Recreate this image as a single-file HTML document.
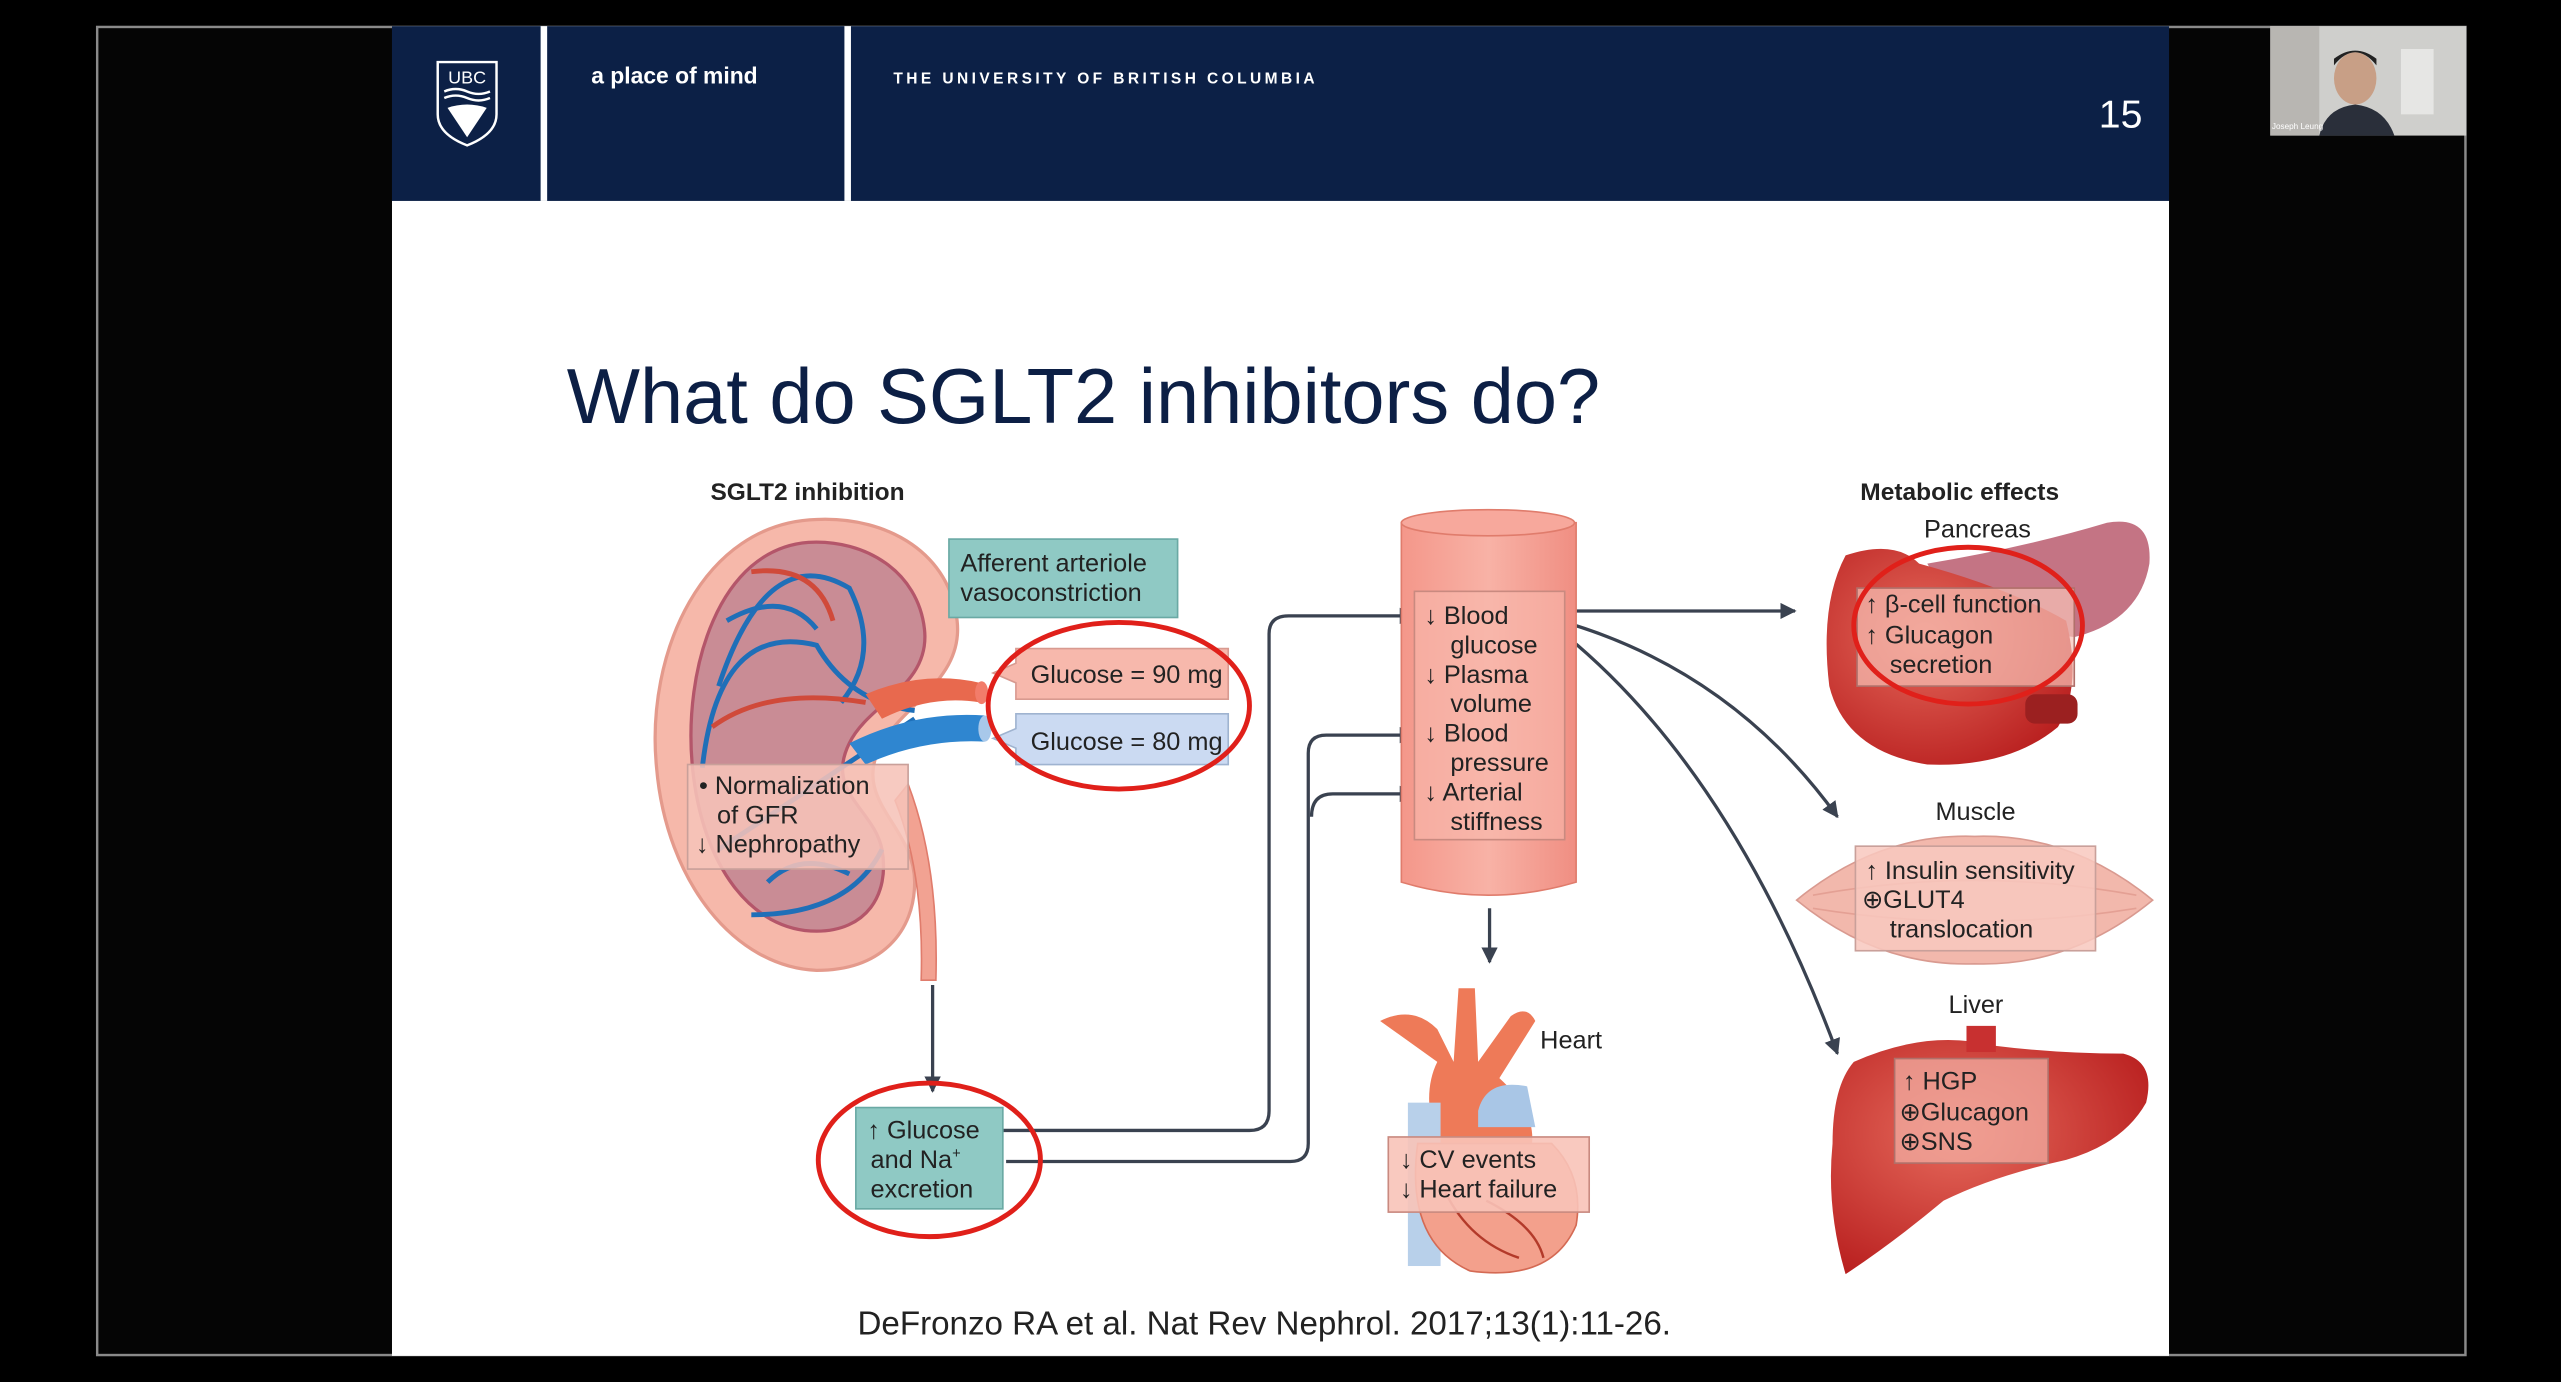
<!DOCTYPE html>
<html><head><meta charset="utf-8"><style>
html,body{margin:0;padding:0;background:#000;}
svg{display:block;}
text{font-family:"Liberation Sans",sans-serif;}
</style></head><body>
<svg width="2561" height="1382" viewBox="0 0 1568 846" preserveAspectRatio="none" xmlns="http://www.w3.org/2000/svg">
<defs>
<marker id="ah" viewBox="0 0 10 10" refX="9" refY="5" markerWidth="5" markerHeight="5" orient="auto"><path d="M0,0 L10,5 L0,10 z" fill="#3a4250"/></marker>
<linearGradient id="cyl" x1="0" x2="1"><stop offset="0" stop-color="#f4978a"/><stop offset="0.5" stop-color="#f8b2a6"/><stop offset="1" stop-color="#f08e82"/></linearGradient>
<radialGradient id="red" cx="0.4" cy="0.4" r="0.7"><stop offset="0" stop-color="#e66a5c"/><stop offset="1" stop-color="#b81e1e"/></radialGradient>
</defs>
<rect width="1568" height="846" fill="#000"/>
<rect x="59.5" y="16.5" width="1450" height="813" fill="#050505" stroke="#8a8a8a" stroke-width="1.5"/>
<rect x="240" y="16" width="1088" height="814" fill="#fff"/>
<rect x="240" y="16" width="1088" height="107" fill="#0c2046"/>
<rect x="331" y="16" width="4" height="107" fill="#fff"/>
<rect x="517" y="16" width="4" height="107" fill="#fff"/>
<path d="M268,38 L304,38 L304,70 Q304,82 286,89 Q268,82 268,70 Z" fill="none" stroke="#fff" stroke-width="1.5"/>
<text x="286" y="51" fill="#fff" font-size="11" text-anchor="middle" font-family="Liberation Serif,serif">UBC</text>
<path d="M272,56 Q279,53 286,56 Q293,59 300,56 M272,60 Q279,57 286,60 Q293,63 300,60" stroke="#fff" fill="none" stroke-width="1.5"/>
<path d="M274,66 L286,84 L298,66 Q286,62 274,66 Z" fill="#fff"/>
<text x="362" y="51" fill="#fff" font-size="14" font-weight="bold">a place of mind</text>
<text x="547" y="51" fill="#fff" font-size="9.5" font-weight="bold" letter-spacing="2.1">THE UNIVERSITY OF BRITISH COLUMBIA</text>
<text x="1285" y="78" fill="#fff" font-size="24">15</text>
<rect x="1390" y="16" width="120" height="67" fill="#cfcfcc"/>
<rect x="1470" y="30" width="20" height="40" fill="#e6e6e4"/>
<rect x="1390" y="16" width="30" height="67" fill="#b8b6b2"/>
<ellipse cx="1442" cy="48" rx="13" ry="16" fill="#c89f86"/>
<path d="M1429,40 Q1442,24 1455,40 L1455,36 Q1442,26 1429,36Z" fill="#222"/>
<path d="M1420,83 Q1424,66 1442,64 Q1460,66 1466,83 Z" fill="#2a2f3a"/>
<text x="1391" y="79" fill="#fff" font-size="5">Joseph Leung</text>
<text x="347" y="259" fill="#0c1f45" font-size="47.5">What do SGLT2 inhibitors do?</text>
<text x="435" y="306" fill="#222" font-size="15" font-weight="bold">SGLT2 inhibition</text>
<path d="M500,318 C430,320 395,400 402,470 C408,540 450,592 500,594 C540,594 560,570 560,540 C560,505 520,490 540,455 C555,430 590,415 586,380 C582,340 545,316 500,318 Z" fill="#f6b8aa" stroke="#e49a8c" stroke-width="2"/>
<path d="M495,332 C440,336 418,410 424,470 C430,530 460,570 500,570 C530,570 545,548 540,520 C535,495 505,485 520,455 C532,430 570,420 566,385 C562,350 530,330 495,332 Z" fill="#c98c95" stroke="#b4566a" stroke-width="2"/>
<g fill="none" stroke-width="3">
<path d="M440,420 Q470,330 520,360 Q540,400 515,430" stroke="#1f6fb8"/>
<path d="M430,470 Q440,380 500,395 Q520,430 560,435" stroke="#1f6fb8"/>
<path d="M440,520 Q500,480 560,440" stroke="#1f6fb8"/>
<path d="M460,560 Q520,560 540,520" stroke="#1f6fb8"/>
<path d="M445,380 Q480,360 500,385" stroke="#1f6fb8"/>
<path d="M470,540 Q490,520 520,535" stroke="#1f6fb8"/>
<path d="M460,350 Q500,345 510,380" stroke="#d04a3a"/>
<path d="M436,445 Q470,420 530,430" stroke="#d04a3a"/>
</g>
<path d="M530,425 Q565,410 600,418 L600,430 Q570,425 540,440 Z" fill="#e8694e"/>
<path d="M520,455 Q560,435 603,438 L603,454 Q565,452 530,468 Z" fill="#2f86d0"/>
<ellipse cx="601" cy="424" rx="4" ry="7" fill="#f27c6a"/>
<ellipse cx="603" cy="446" rx="4" ry="8" fill="#a8c8ea"/>
<path d="M556,480 Q575,530 573,600 L564,600 Q566,535 548,490 Z" fill="#f2a292" stroke="#e07c6c"/>
<rect x="421" y="468" width="135" height="64" fill="#f6c3b8" fill-opacity="0.88" stroke="#c9a09a"/>
<text font-size="15.5" fill="#222"><tspan x="428" y="486">• Normalization</tspan><tspan x="439" y="504">of GFR</tspan><tspan x="426" y="522">↓ Nephropathy</tspan></text>
<rect x="581" y="330" width="140" height="48" fill="#8fc9c4" stroke="#6aa9a4"/>
<text font-size="15.5" fill="#222"><tspan x="588" y="350">Afferent arteriole</tspan><tspan x="588" y="368">vasoconstriction</tspan></text>
<path d="M622,397 L752,397 L752,428 L622,428 L622,418 L608,412 L622,406Z" fill="#f7b8ac" stroke="#d89a90"/>
<text x="631" y="418" font-size="15.5" fill="#222">Glucose = 90 mg</text>
<path d="M622,437 L752,437 L752,468 L622,468 L622,458 L608,452 L622,446Z" fill="#cbdaf2" stroke="#9fb3d0"/>
<text x="631" y="459" font-size="15.5" fill="#222">Glucose = 80 mg</text>
<ellipse cx="685" cy="432" rx="80" ry="51" fill="none" stroke="#e0201a" stroke-width="3"/>
<g fill="none" stroke="#3a4250" stroke-width="2">
<path d="M571,603 L571,668" marker-end="url(#ah)"/>
<path d="M614,692 L765,692 Q777,692 777,680 L777,388 Q777,377 789,377 L866,377" marker-end="url(#ah)"/>
<path d="M616,711 L790,711 Q801,711 801,700 L801,461 Q801,450 812,450 L866,450" marker-end="url(#ah)"/>
<path d="M803,500 Q803,486 816,486 L866,486" marker-end="url(#ah)"/>
<path d="M912,556 L912,589" marker-end="url(#ah)"/>
<path d="M955,374 L1099,374" marker-end="url(#ah)"/>
<path d="M955,380 Q1060,410 1125,500" marker-end="url(#ah)"/>
<path d="M955,386 Q1060,470 1125,645" marker-end="url(#ah)"/>
</g>
<rect x="524" y="678" width="90" height="62" fill="#8fc9c4" stroke="#6aa9a4"/>
<text font-size="15.5" fill="#222"><tspan x="531" y="697">↑ Glucose</tspan><tspan x="533" y="715">and Na<tspan font-size="9" dy="-6">+</tspan></tspan><tspan x="533" y="733">excretion</tspan></text>
<ellipse cx="569" cy="710" rx="68" ry="47" fill="none" stroke="#e0201a" stroke-width="3"/>
<path d="M858,320 L858,540 Q911,556 965,540 L965,320 Z" fill="url(#cyl)" stroke="#e07c6c"/>
<ellipse cx="911" cy="320" rx="53" ry="8" fill="#f7a89c" stroke="#e07c6c"/>
<rect x="866" y="362" width="92" height="152" fill="#f8b9ae" fill-opacity="0.6" stroke="#c98a80"/>
<text font-size="15.5" fill="#222"><tspan x="872" y="382">↓ Blood</tspan><tspan x="888" y="400">glucose</tspan><tspan x="872" y="418">↓ Plasma</tspan><tspan x="888" y="436">volume</tspan><tspan x="872" y="454">↓ Blood</tspan><tspan x="888" y="472">pressure</tspan><tspan x="872" y="490">↓ Arterial</tspan><tspan x="888" y="508">stiffness</tspan></text>
<path d="M845,625 Q865,615 880,630 L890,650 L893,605 L903,605 L905,650 L925,622 Q935,615 940,625 L918,660 Q940,680 938,700 L880,700 Q870,670 880,650 Z" fill="#ee7a58"/>
<rect x="862" y="675" width="20" height="100" fill="#b8d0ea"/>
<path d="M905,680 Q910,660 935,665 L940,690 L905,690Z" fill="#a9c6e6"/>
<path d="M868,700 Q860,760 900,778 Q950,785 965,750 Q970,720 950,700 Z" fill="#f3a08c" stroke="#d46a54"/>
<path d="M885,730 Q900,760 930,770 M910,735 Q940,750 945,770" stroke="#b33a2a" fill="none" stroke-width="1.5"/>
<text x="943" y="642" font-size="15.5" fill="#222">Heart</text>
<rect x="850" y="696" width="123" height="46" fill="#f8c3b8" fill-opacity="0.9" stroke="#c98a80"/>
<text font-size="15.5" fill="#222"><tspan x="857" y="715">↓ CV events</tspan><tspan x="857" y="733">↓ Heart failure</tspan></text>
<text x="1139" y="306" font-size="15" font-weight="bold" fill="#222">Metabolic effects</text>
<text x="1178" y="329" font-size="15.5" fill="#222">Pancreas</text>
<path d="M1180,345 Q1240,335 1290,320 Q1318,315 1316,345 Q1310,380 1270,390 L1200,380 Z" fill="#c47484"/>
<path d="M1130,340 Q1160,330 1175,345 Q1230,360 1265,380 Q1275,420 1260,445 Q1230,470 1180,468 Q1130,460 1120,420 Q1114,370 1130,340 Z" fill="url(#red)"/>
<rect x="1240" y="425" width="32" height="18" rx="6" fill="#9b2020"/>
<rect x="1137" y="360" width="133" height="60" fill="#f8c3b8" fill-opacity="0.7" stroke="#b0706a"/>
<text font-size="15.5" fill="#222"><tspan x="1142" y="375">↑ β-cell function</tspan><tspan x="1142" y="394">↑ Glucagon</tspan><tspan x="1157" y="412">secretion</tspan></text>
<ellipse cx="1205" cy="383" rx="70" ry="48" fill="none" stroke="#e0201a" stroke-width="3"/>
<text x="1185" y="502" font-size="15.5" fill="#222">Muscle</text>
<path d="M1100,551 Q1150,510 1209,512 Q1268,510 1318,551 Q1268,592 1209,590 Q1150,592 1100,551 Z" fill="#f2b8ac" stroke="#d99a90"/>
<path d="M1110,548 Q1209,530 1308,548 M1110,556 Q1209,572 1308,556" stroke="#e4a094" fill="none"/>
<rect x="1136" y="518" width="147" height="64" fill="#f8c8be" fill-opacity="0.85" stroke="#c9a09a"/>
<text font-size="15.5" fill="#222"><tspan x="1142" y="538">↑ Insulin sensitivity</tspan><tspan x="1140" y="556">⊕GLUT4</tspan><tspan x="1157" y="574">translocation</tspan></text>
<text x="1193" y="620" font-size="15.5" fill="#222">Liver</text>
<path d="M1135,650 Q1180,630 1220,640 Q1260,645 1300,645 Q1320,650 1314,675 Q1300,700 1265,710 Q1220,720 1190,735 Q1160,760 1130,780 Q1118,740 1122,700 Q1122,665 1135,650 Z" fill="url(#red)"/>
<rect x="1204" y="628" width="18" height="16" fill="#c83030"/>
<rect x="1160" y="648" width="94" height="64" fill="#f3b3a8" fill-opacity="0.7" stroke="#b0706a"/>
<text font-size="15.5" fill="#222"><tspan x="1165" y="667">↑ HGP</tspan><tspan x="1163" y="686">⊕Glucagon</tspan><tspan x="1163" y="704">⊕SNS</tspan></text>
<text x="525" y="817" font-size="20.3" fill="#222">DeFronzo RA et al. Nat Rev Nephrol. 2017;13(1):11-26.</text>
</svg>
</body></html>
